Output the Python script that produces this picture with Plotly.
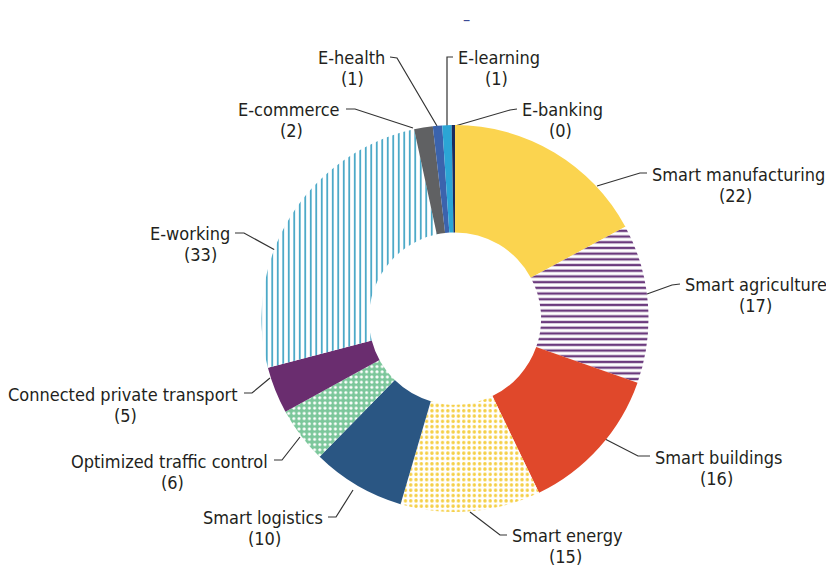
import plotly.graph_objects as go

# ---------------- data ----------------
categories = ["Smart manufacturing", "Smart agriculture", "Smart buildings", "Smart energy",
              "Smart logistics", "Optimized traffic control", "Connected private transport",
              "E-working", "E-commerce", "E-health", "E-learning", "E-banking"]
counts = [22, 17, 16, 15, 10, 6, 5, 33, 2, 1, 1, 0]
# a zero count is still drawn as a hairline sliver, as in the original
MIN_SLIVER = 0.35
slice_values = [c if c > 0 else MIN_SLIVER for c in counts]

# ---------------- styles ----------------
colors = ["#FBD44F", "#6B3A7D", "#E0482B", "#F7D24E", "#2A5683", "#7CC79B",
          "#6A2D6F", "#45A6C6", "#606163", "#3B63AD", "#2BA5D5", "#1B2B5C"]
pat_shape = ["", "-", "", ".", "", ".", "", "|", "", "", "", ""]
pat_fg = ["#FBD44F", "#6B3A7D", "#E0482B", "#F5CF45", "#2A5683", "#FFFFFF",
          "#6A2D6F", "#45A6C6", "#606163", "#3B63AD", "#2BA5D5", "#1B2B5C"]
pat_bg = ["#FBD44F", "#FFFFFF", "#E0482B", "#FFFFFF", "#2A5683", "#7CC79B",
          "#6A2D6F", "#FFFFFF", "#606163", "#3B63AD", "#2BA5D5", "#1B2B5C"]
pat_size = [6, 5.7, 6, 5.3, 6, 5.2, 6, 5.5, 6, 6, 6, 6]
pat_solid = [0.3, 0.42, 0.3, 0.32, 0.3, 0.28, 0.3, 0.32, 0.3, 0.3, 0.3, 0.3]

W, H = 826, 565
CX, CY, R = 455, 318.5, 193.5
HOLE = 0.445

# label layout: name anchor x, side ('L' text left of its leader / 'R' text right),
# line-1 y, count centre x, leader path (text end -> elbow -> slice edge)
label_layout = {
    "E-health":                    (387, "L", 57, 352, [(390, 57), (397, 58), (437, 126)]),
    "E-learning":                  (456, "R", 57, 496, [(453, 57), (447, 57), (447, 126)]),
    "E-banking":                   (520, "R", 109, 560, [(517, 109), (510, 110), (455, 126)]),
    "E-commerce":                  (342, "L", 109, 291, [(346, 109), (355, 109), (413, 128)]),
    "Smart manufacturing":         (650, "R", 174, 735, [(647, 173), (640, 173), (597, 186)]),
    "Smart agriculture":           (683, "R", 284, 755, [(680, 284), (672, 285), (647, 294)]),
    "Smart buildings":             (653, "R", 457, 716, [(650, 456), (638, 456), (605, 439)]),
    "Smart energy":                (510, "R", 535, 565, [(507, 535), (500, 535), (470, 512)]),
    "Smart logistics":             (325, "L", 517, 264, [(328, 517), (336, 517), (353, 490)]),
    "Optimized traffic control":   (270, "L", 461, 172, [(274, 460), (282, 460), (300, 437)]),
    "Connected private transport": (240, "L", 394, 125, [(244, 393), (252, 393), (270, 378)]),
    "E-working":                   (232, "L", 233, 200, [(235, 233), (244, 233), (275, 250)]),
}

FONT = "DejaVu Sans Condensed, Liberation Sans Narrow, sans-serif"
FS = 18
TXT = "#231F20"
LINE_GAP = 21

fig = go.Figure()

fig.add_trace(go.Pie(
    labels=categories, values=slice_values, customdata=counts,
    sort=False, direction="clockwise", rotation=0, hole=HOLE,
    textinfo="none", showlegend=False,
    hovertemplate="%{label}: %{customdata}<extra></extra>",
    domain=dict(x=[(CX - R) / W, (CX + R) / W], y=[(H - CY - R) / H, (H - CY + R) / H]),
    marker=dict(colors=colors, line=dict(width=0),
                pattern=dict(shape=pat_shape, fgcolor=pat_fg, bgcolor=pat_bg,
                             size=pat_size, solidity=pat_solid, fillmode="replace")),
))

annotations = []
for name, cnt in zip(categories, counts):
    x, side, y, cx, path = label_layout[name]
    fig.add_trace(go.Scatter(
        x=[p[0] for p in path], y=[p[1] for p in path], mode="lines",
        line=dict(color="#333333", width=1.2), hoverinfo="skip", showlegend=False,
        xaxis="x", yaxis="y"))
    annotations.append(dict(x=x, y=y, xref="x", yref="y", text=name, showarrow=False,
                            xanchor="right" if side == "L" else "left", yanchor="middle",
                            font=dict(family=FONT, size=FS, color=TXT)))
    annotations.append(dict(x=cx, y=y + LINE_GAP, xref="x", yref="y", text=f"({cnt})",
                            showarrow=False, xanchor="center", yanchor="middle",
                            font=dict(family=FONT, size=FS, color=TXT)))

annotations.append(dict(x=466, y=19, xref="x", yref="y", text="–", showarrow=False,
                        font=dict(family=FONT, size=16, color="#3B4A94")))

fig.update_layout(
    width=W, height=H, margin=dict(l=0, r=0, t=0, b=0),
    paper_bgcolor="white", plot_bgcolor="rgba(0,0,0,0)",
    xaxis=dict(range=[0, W], visible=False, fixedrange=True, domain=[0, 1]),
    yaxis=dict(range=[H, 0], visible=False, fixedrange=True, domain=[0, 1]),
    annotations=annotations,
)

fig.write_html("out.html", config={"displayModeBar": False},
               post_script="document.body.style.margin='0';")
